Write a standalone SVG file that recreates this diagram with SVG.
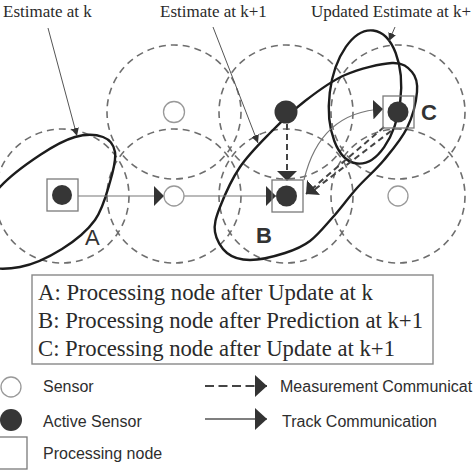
<svg xmlns="http://www.w3.org/2000/svg" width="474" height="474" viewBox="0 0 474 474">
<style>
.range{fill:none;stroke:#6e6e6e;stroke-width:1.6;stroke-dasharray:7 5}
.est{fill:none;stroke:#1c1c1c;stroke-width:2.4}
.sensor{fill:#fff;stroke:#999;stroke-width:1.3}
.active{fill:#363636}
.proc{fill:none;stroke:#7a7a7a;stroke-width:1.3}
.track{fill:none;stroke:#777;stroke-width:1.2}
.meas{fill:none;stroke:#444;stroke-width:2;stroke-dasharray:6 4}
.ptr{fill:none;stroke:#555;stroke-width:1}
.serif{font-family:"Liberation Serif","Times New Roman",serif;fill:#2a2a2a}
.sans{font-family:"Liberation Sans",Arial,sans-serif;fill:#2e2e2e}
.lbl{font-family:"Liberation Sans",Arial,sans-serif;font-size:22px;fill:#333}
</style>
<defs>
<marker id="tri" viewBox="0 0 10 20" refX="10" refY="10" markerWidth="10" markerHeight="20" markerUnits="userSpaceOnUse" orient="auto">
<path d="M0,0 L10,10 L0,20 Z" fill="#333"/>
</marker>
<marker id="tri-l" viewBox="0 0 12 22" refX="12" refY="11" markerWidth="12" markerHeight="22" markerUnits="userSpaceOnUse" orient="auto">
<path d="M0,0 L12,11 L0,22 Z" fill="#333"/>
</marker>
<marker id="pt" viewBox="0 0 8 8" refX="8" refY="4" markerWidth="8" markerHeight="8" markerUnits="userSpaceOnUse" orient="auto">
<path d="M0,0 L8,4 L0,8 Z" fill="#333"/>
</marker>
</defs>
<rect width="474" height="474" fill="#fff"/>

<g id="ranges">
<circle class="range" cx="174" cy="112" r="67"/>
<circle class="range" cx="286" cy="112" r="67"/>
<circle class="range" cx="398" cy="112" r="67"/>
<circle class="range" cx="62" cy="196" r="67"/>
<circle class="range" cx="174" cy="196" r="67"/>
<circle class="range" cx="286" cy="196" r="67"/>
<circle class="range" cx="398" cy="196" r="67"/>
</g>

<g id="estimates">
<path id="estimate-k" class="est" d="M75,137 C85.5,134 96.3,134.5 103,137 C109.7,139.5 113.8,144.5 115,152 C116.2,159.5 113.3,170.7 110,182 C106.7,193.3 103,208.8 95,220 C87,231.2 74.5,241.2 62,249 C49.5,256.8 33.3,264.5 20,267 C6.7,269.5 -9.7,269.8 -18,264 C-26.3,258.2 -33,244.8 -30,232 C-27,219.2 -11.7,199.8 0,187 C11.7,174.2 27.5,163.3 40,155 C52.5,146.7 64.5,140 75,137 Z"/>
<path id="estimate-k1" class="est" d="M392,63 C403.2,62.5 407.8,67.2 412,72 C416.2,76.8 417.8,82.7 417,92 C416.2,101.3 412.5,116.7 407,128 C401.5,139.3 392.3,150 384,160 C375.7,170 365.5,178.5 357,188 C348.5,197.5 340.8,208.2 333,217 C325.2,225.8 318,235 310,241 C302,247 295,249.8 285,253 C275,256.2 259.7,260 250,260 C240.3,260 232.8,257.7 227,253 C221.2,248.3 216.2,239.7 215,232 C213.8,224.3 215.8,217.8 220,207 C224.2,196.2 231.7,179.3 240,167 C248.3,154.7 259.2,144 270,133 C280.8,122 292.5,110.7 305,101 C317.5,91.3 330.5,81.3 345,75 C359.5,68.7 380.8,63.5 392,63 Z"/>
<ellipse id="estimate-updated" class="est" cx="365" cy="97" rx="35.5" ry="67" transform="rotate(7 365 97)"/>
</g>

<g id="connectors">
<line class="track" x1="78" y1="196" x2="164" y2="196" marker-end="url(#tri)"/>
<line class="track" x1="184" y1="196" x2="276" y2="196" marker-end="url(#tri)"/>
<path class="track" d="M304,180 Q320,112 383,109" marker-end="url(#tri)"/>
<line class="meas" x1="287" y1="124" x2="287" y2="181" marker-end="url(#tri)"/>
<line class="meas" x1="384" y1="127" x2="306" y2="194" marker-end="url(#tri)"/>
<line class="meas" x1="391" y1="131" x2="314" y2="190"/>
<line class="ptr" x1="48" y1="28" x2="77" y2="136" marker-end="url(#pt)"/>
<line class="ptr" x1="213" y1="27" x2="258" y2="143" marker-end="url(#pt)"/>
<line class="ptr" x1="395" y1="27" x2="389" y2="41" marker-end="url(#pt)"/>
</g>

<g id="sensor-top-1"><circle class="sensor" cx="174" cy="112" r="10.5"/></g>
<g id="sensor-top-2"><circle class="active" cx="286" cy="112" r="11.5"/></g>
<g id="node-C">
<rect class="proc" x="383" y="96" width="31" height="32"/>
<circle class="active" cx="398" cy="112" r="10.5"/>
<text class="lbl" x="421" y="120" font-weight="bold">C</text>
</g>
<g id="node-A">
<rect class="proc" x="47" y="179" width="31" height="32"/>
<circle class="active" cx="62" cy="195" r="10"/>
<text class="lbl" x="85" y="245">A</text>
</g>
<g id="sensor-bottom-2"><circle class="sensor" cx="174" cy="196" r="10"/></g>
<g id="node-B">
<rect class="proc" x="272" y="180" width="31" height="32"/>
<circle class="active" cx="286.5" cy="196" r="10.5"/>
<text class="lbl" x="256" y="243" font-weight="bold">B</text>
</g>
<g id="sensor-bottom-4"><circle class="sensor" cx="398" cy="196" r="10"/></g>

<g id="captions">
<text class="serif" x="3" y="17" font-size="17">Estimate at k</text>
<text class="serif" x="160" y="17" font-size="17">Estimate at k+1</text>
<text class="serif" x="311" y="17" font-size="17">Updated Estimate at k+</text>
</g>

<g id="key-box">
<rect x="32" y="275" width="401" height="89" fill="none" stroke="#888" stroke-width="1.4"/>
<text class="serif" x="38" y="300" font-size="22.5" textLength="335" lengthAdjust="spacingAndGlyphs">A: Processing node after Update at k</text>
<text class="serif" x="38" y="328" font-size="22.5" textLength="385" lengthAdjust="spacingAndGlyphs">B: Processing node after Prediction at k+1</text>
<text class="serif" x="38" y="356" font-size="22.5" textLength="357" lengthAdjust="spacingAndGlyphs">C: Processing node after Update at k+1</text>
</g>

<g id="legend">
<circle class="sensor" cx="11" cy="387" r="10"/>
<text class="sans" x="43" y="392" font-size="16">Sensor</text>
<circle class="active" cx="11" cy="420" r="11"/>
<text class="sans" x="43" y="427" font-size="16">Active Sensor</text>
<rect class="proc" x="-5" y="437" width="32" height="32"/>
<text class="sans" x="43" y="459" font-size="16">Processing node</text>
<line x1="205" y1="386" x2="267" y2="386" stroke="#444" stroke-width="2" stroke-dasharray="9 4.5" marker-end="url(#tri-l)"/>
<text class="sans" x="280" y="392" font-size="16">Measurement Communicat</text>
<line x1="205" y1="419" x2="267" y2="419" stroke="#555" stroke-width="1.4" marker-end="url(#tri-l)"/>
<text class="sans" x="282" y="427" font-size="16">Track Communication</text>
</g>
</svg>
